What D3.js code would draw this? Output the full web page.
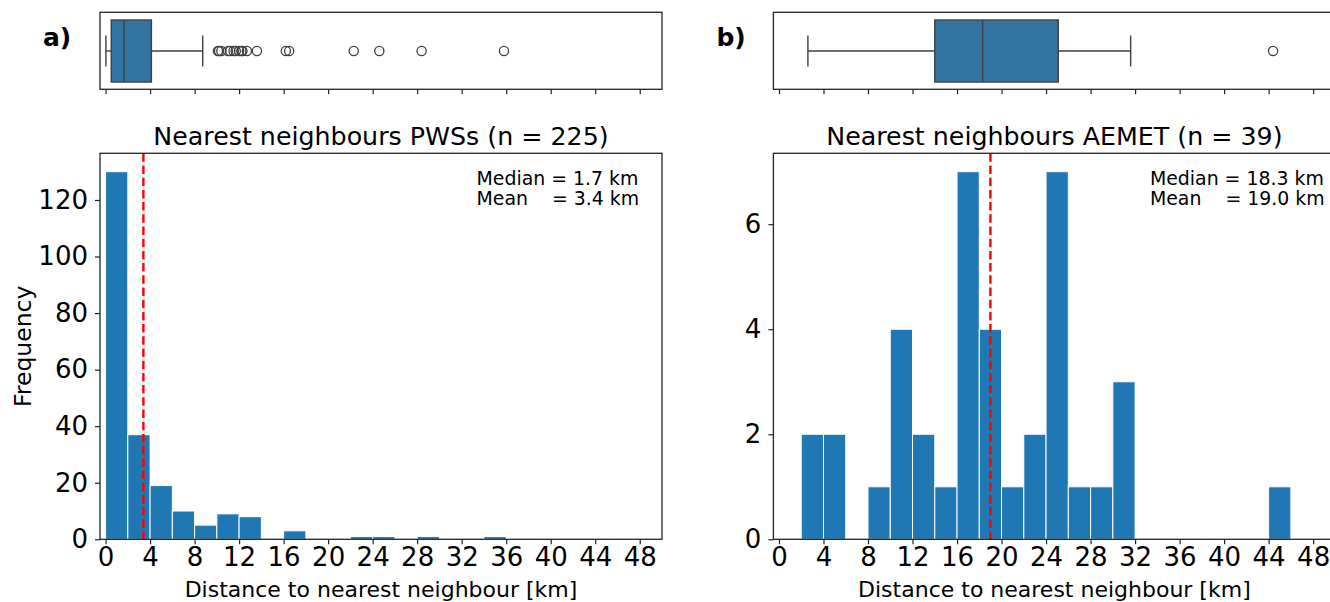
<!DOCTYPE html>
<html><head><meta charset="utf-8">
<script src="https://cdn.jsdelivr.net/npm/d3@7"></script>
<style>
body{margin:0;background:#fff;}
text{font-family:"DejaVu Sans",sans-serif;fill:#000;}
.pre{white-space:pre;}
</style></head>
<body><svg id="c" width="1330" height="602"></svg>
<script>
// ---- data ----
const binWidth = 2;
const xTicks = [0,4,8,12,16,20,24,28,32,36,40,44,48];
const pwsCounts = [130,37,19,10,5,9,8,0,3,0,0,1,1,0,1,0,0,1];          // bins from 0 km, width 2
const aemetCounts = [0,2,2,0,1,4,2,1,7,4,1,2,7,1,1,3,0,0,0,0,0,0,1];   // bins from 0 km, width 2
const pwsYTicks = [0,20,40,60,80,100,120];
const aemetYTicks = [0,2,4,6];
const pwsBox = {low:0.03, q1:0.51, median:1.65, q3:4.12, high:8.73};
const aemetBox = {low:2.6, q1:14.0, median:18.3, q3:25.1, high:31.6};
const pwsOutliers = [10.1,10.2,10.4,11.0,11.2,11.5,11.7,12.0,12.2,12.3,12.7,13.6,16.2,16.5,22.3,24.6,28.4,35.8];
const aemetOutliers = [44.4];
const pwsStats = {median:1.7, mean:3.4, n:225};
const aemetStats = {median:18.3, mean:19.0, n:39};

const svg = d3.select("#c");
const boxFill = "#3274a1", boxEdge = "#3f3f3f", barFill = "#1f77b4";

function panel(o){
  const g = svg.append("g");
  const x = d3.scaleLinear().domain([-0.5,50]).range([o.axL, o.axL+562]);
  const hTop = 153.3, hBot = 539.3, bTop = 12.3, bBot = 89.3;
  const y = d3.scaleLinear().domain([0, d3.max(o.counts)*1.05]).range([hBot, hTop]);

  // --- boxplot ---
  const cy = 51, hh = 31;
  const b = o.box;
  g.append("line").attr("x1",x(b.low)).attr("x2",x(b.q1)).attr("y1",cy).attr("y2",cy).attr("stroke",boxEdge).attr("stroke-width",1.4);
  g.append("line").attr("x1",x(b.q3)).attr("x2",x(b.high)).attr("y1",cy).attr("y2",cy).attr("stroke",boxEdge).attr("stroke-width",1.4);
  [b.low,b.high].forEach(v=>g.append("line").attr("x1",x(v)).attr("x2",x(v)).attr("y1",cy-hh/2).attr("y2",cy+hh/2).attr("stroke",boxEdge).attr("stroke-width",1.4));
  g.append("rect").attr("x",x(b.q1)).attr("y",cy-hh).attr("width",x(b.q3)-x(b.q1)).attr("height",2*hh)
    .attr("fill",boxFill).attr("stroke",boxEdge).attr("stroke-width",1.4);
  g.append("line").attr("x1",x(b.median)).attr("x2",x(b.median)).attr("y1",cy-hh).attr("y2",cy+hh).attr("stroke",boxEdge).attr("stroke-width",1.4);
  g.selectAll(".out").data(o.outliers).join("circle").attr("cx",d=>x(d)).attr("cy",cy).attr("r",4.6)
    .attr("fill","none").attr("stroke",boxEdge).attr("stroke-width",1.3);
  const bax = g.append("g").attr("transform",`translate(0,${bBot})`)
    .call(d3.axisBottom(x).tickValues(xTicks).tickSize(5).tickFormat(""));
  bax.select(".domain").remove();
  bax.selectAll("line").attr("stroke","#222").attr("stroke-width",1.2);
  g.append("rect").attr("x",o.axL).attr("y",bTop).attr("width",562).attr("height",bBot-bTop)
    .attr("fill","none").attr("stroke","#222").attr("stroke-width",1.3);

  // --- histogram ---
  const bins = o.counts.map((c,i)=>({x0:i*binWidth, x1:(i+1)*binWidth, c})).filter(d=>d.c>0);
  g.selectAll(".bar").data(bins).join("rect")
    .attr("x",d=>x(d.x0)).attr("width",d=>x(d.x1)-x(d.x0))
    .attr("y",d=>y(d.c)).attr("height",d=>y(0)-y(d.c))
    .attr("fill",barFill).attr("stroke","#fff").attr("stroke-width",1);
  g.append("line").attr("x1",x(o.stats.mean)).attr("x2",x(o.stats.mean)).attr("y1",hTop).attr("y2",hBot)
    .attr("stroke","#ff0000").attr("stroke-width",2.4).attr("stroke-dasharray","8.5,3.7");

  const xa = g.append("g").attr("transform",`translate(0,${hBot})`)
    .call(d3.axisBottom(x).tickValues(xTicks).tickSize(5).tickPadding(3).tickFormat(d3.format("d")));
  xa.select(".domain").remove();
  xa.selectAll("line").attr("stroke","#222").attr("stroke-width",1.2);
  xa.selectAll("text").attr("font-size",26).attr("font-family","DejaVu Sans").attr("fill","#000");
  const ya = g.append("g").attr("transform",`translate(${o.axL},0)`)
    .call(d3.axisLeft(y).tickValues(o.yTicks).tickSize(5).tickPadding(7).tickFormat(d3.format("d")));
  ya.select(".domain").remove();
  ya.selectAll("line").attr("stroke","#222").attr("stroke-width",1.2);
  ya.selectAll("text").attr("font-size",26).attr("font-family","DejaVu Sans").attr("fill","#000");
  g.append("rect").attr("x",o.axL).attr("y",hTop).attr("width",562).attr("height",hBot-hTop)
    .attr("fill","none").attr("stroke","#222").attr("stroke-width",1.3);

  // texts
  g.append("text").attr("x",o.axL+281).attr("y",145).attr("text-anchor","middle").attr("font-size",25.3)
    .text(`Nearest neighbours ${o.name} (n = ${o.stats.n})`);
  g.append("text").attr("class","pre").attr("x",o.axL+376.5).attr("y",184.5).attr("font-size",18.9)
    .text(`Median = ${o.stats.median.toFixed(1)} km`);
  g.append("text").attr("class","pre").attr("x",o.axL+376.5).attr("y",204.5).attr("font-size",18.9)
    .text(`Mean    = ${o.stats.mean.toFixed(1)} km`);
  g.append("text").attr("x",o.axL+281).attr("y",597).attr("text-anchor","middle").attr("font-size",22)
    .text("Distance to nearest neighbour [km]");
  g.append("text").attr("x",o.axL-57).attr("y",46).attr("font-size",25).attr("font-weight","bold").text(o.label);
  if(o.ylabel){
    g.append("text").attr("transform",`translate(31,${(hTop+hBot)/2}) rotate(-90)`).attr("text-anchor","middle")
      .attr("font-size",23.5).text(o.ylabel);
  }
}

panel({axL:100, counts:pwsCounts, yTicks:pwsYTicks, box:pwsBox, outliers:pwsOutliers, stats:pwsStats, name:"PWSs", label:"a)", ylabel:"Frequency"});
panel({axL:773.4, counts:aemetCounts, yTicks:aemetYTicks, box:aemetBox, outliers:aemetOutliers, stats:aemetStats, name:"AEMET", label:"b)"});
</script></body></html>
